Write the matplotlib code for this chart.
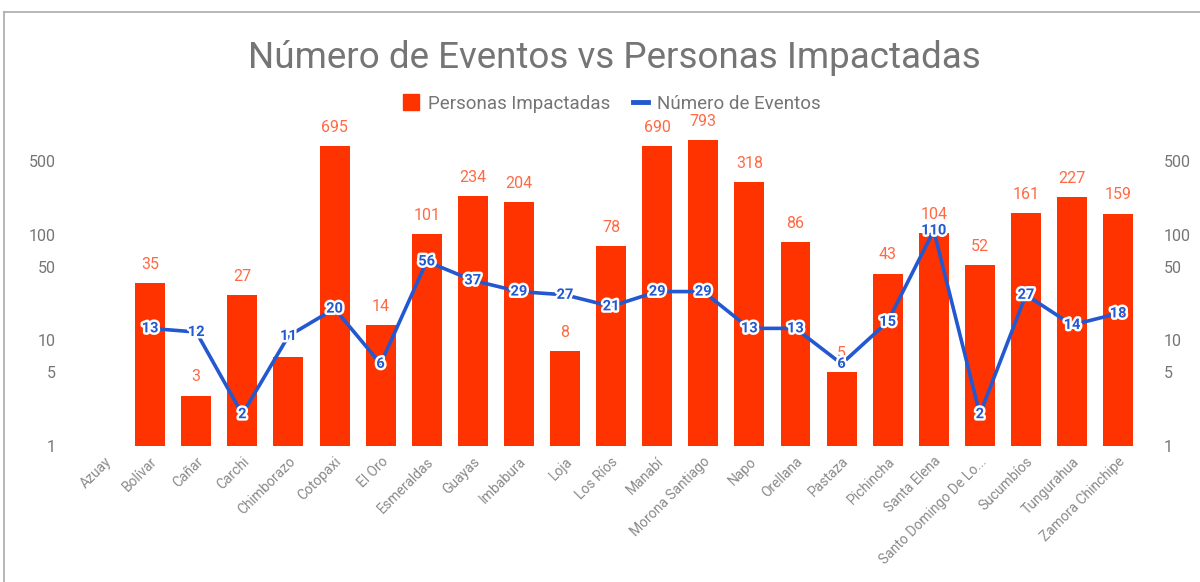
import numpy as np
import matplotlib
matplotlib.use('Agg')
import matplotlib.pyplot as plt
import matplotlib.patheffects as pe
from matplotlib.lines import Line2D

plt.rcParams['font.family'] = ['Roboto', 'DejaVu Sans']

provincias = ['Azuay', 'Bolívar', 'Cañar', 'Carchi', 'Chimborazo', 'Cotopaxi',
              'El Oro', 'Esmeraldas', 'Guayas', 'Imbabura', 'Loja', 'Los Ríos',
              'Manabí', 'Morona Santiago', 'Napo', 'Orellana', 'Pastaza',
              'Pichincha', 'Santa Elena', 'Santo Domingo De Lo...', 'Sucumbíos',
              'Tungurahua', 'Zamora Chinchipe']
personas = [np.nan, 35, 3, 27, 7, 695, 14, 101, 234, 204, 8, 78, 690, 793, 318,
            86, 5, 43, 104, 52, 161, 227, 159]
eventos = [np.nan, 13, 12, 2, 11, 20, 6, 56, 37, 29, 27, 21, 29, 29, 13, 13, 6,
           15, 110, 2, 27, 14, 18]
# bar labels hidden by the chart (overlap with line labels)
ocultas = ['Chimborazo']
y_ticks = [1, 5, 10, 50, 100, 500]

BAR = '#ff3300'
BAR_TXT = '#ff6a45'
LINE = '#2358d0'
GRAY = '#757575'

fig = plt.figure(figsize=(12, 5.82), dpi=100)
ax = fig.add_axes([0.0675, 0.2337, 0.8835, 0.5443])
x = np.arange(len(provincias))

ax.bar(x, personas, width=0.65, color=BAR, zorder=2)
ax.plot(x, eventos, color=LINE, linewidth=2.6, zorder=3)

ax.set_yscale('log')
ax.set_ylim(1, 1000)
ax.set_xlim(-0.5, len(provincias) - 0.5)

for xi, (p, e, nombre) in enumerate(zip(personas, eventos, provincias)):
    if not np.isnan(p) and nombre not in ocultas:
        ax.annotate(f'{int(p)}', (xi, p), xytext=(0, 8), textcoords='offset points',
                    ha='center', va='bottom', color=BAR_TXT, fontsize=11.5, zorder=4)
    if not np.isnan(e):
        ax.text(xi, e, f'{int(e)}', ha='center', va='center', color=LINE,
                fontsize=10.5, fontweight='bold', zorder=5,
                path_effects=[pe.withStroke(linewidth=3.5, foreground='white')])

ax.set_xticks(x)
ax.set_xticklabels(provincias, rotation=45, ha='right', rotation_mode='anchor',
                   color='#8a8a8a', fontsize=10)
ax.set_yticks(y_ticks)
ax.set_yticklabels([str(t) for t in y_ticks], color=GRAY, fontsize=11.5)
ax.minorticks_off()
ax.tick_params(axis='both', length=0)
ax.tick_params(axis='y', pad=18)
ax.tick_params(axis='x', pad=6)
for s in ax.spines.values():
    s.set_visible(False)

ax2 = ax.twinx()
ax2.set_yscale('log')
ax2.set_ylim(1, 1000)
ax2.set_yticks(y_ticks)
ax2.set_yticklabels([str(t) for t in y_ticks], color=GRAY, fontsize=11.5)
ax2.minorticks_off()
ax2.tick_params(axis='y', length=0, pad=16)
for s in ax2.spines.values():
    s.set_visible(False)

fig.text(0.512, 0.9, 'Número de Eventos vs Personas Impactadas', ha='center',
         va='center', fontsize=26.5, color=GRAY)

handles = [Line2D([], [], marker='s', linestyle='none', color=BAR, markersize=12),
           Line2D([], [], color=LINE, linewidth=3.5)]
leg = fig.legend(handles, ['Personas Impactadas', 'Número de Eventos'],
                 loc='center', bbox_to_anchor=(0.51, 0.822), ncol=2, frameon=False,
                 fontsize=13.5, handlelength=0.8, handletextpad=0.5, columnspacing=1.2)
for t in leg.get_texts():
    t.set_color(GRAY)

# outer frame of the chart box
fig.add_artist(Line2D([4 / 1200, 1], [1 - 12 / 582, 1 - 12 / 582], color='#aaaaaa',
                      linewidth=1.2, transform=fig.transFigure))
fig.add_artist(Line2D([4 / 1200, 4 / 1200], [0, 1 - 12 / 582], color='#aaaaaa',
                      linewidth=1.2, transform=fig.transFigure))

fig.savefig('out.png', dpi=100)
